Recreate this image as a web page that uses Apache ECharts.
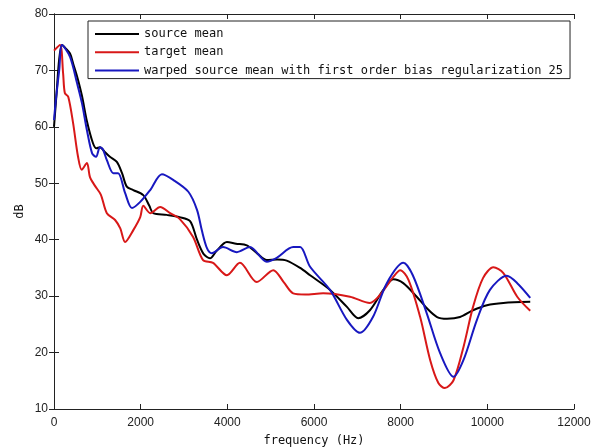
<!DOCTYPE html>
<html>
<head>
<meta charset="utf-8">
<script src="https://cdn.jsdelivr.net/npm/echarts@6/dist/echarts.min.js"></script>
<style>
  html, body { margin: 0; padding: 0; background: #fff; }
  #chart { width: 592px; height: 447px; }
</style>
</head>
<body>
<div id="chart"></div>
<script>
// series names
var seriesNames = ['source mean', 'target mean', 'warped source mean with first order bias regularization 25'];

// source mean (black)
var srcFreq = [0, 60, 120, 185, 260, 370, 450, 530, 645, 760, 900, 980, 1060, 1180, 1290, 1450, 1570, 1680, 1830, 2060, 2200, 2290, 2600, 2900, 3140, 3300, 3450, 3600, 3750, 3990, 4200, 4450, 4700, 4910, 5150, 5370, 5680, 5910, 6370, 6760, 7020, 7290, 7600, 7830, 8060, 8370, 8600, 8840, 9070, 9370, 9670, 9990, 10370, 10990];
var srcDb = [60, 66, 72, 74.5, 74, 73, 71, 69, 65.5, 61, 57.1, 56.2, 56.4, 55.5, 54.7, 53.8, 51.8, 49.4, 48.8, 47.9, 46, 44.7, 44.4, 44, 43.3, 40, 37.5, 36.7, 38, 39.6, 39.3, 39, 37.5, 36.4, 36.5, 36.3, 35, 33.7, 31.1, 28.1, 26.1, 27.5, 31.1, 33, 32.3, 29.9, 27.9, 26.3, 26, 26.3, 27.5, 28.4, 28.8, 29];

// target mean (red)
var tgtFreq = [0, 140, 210, 250, 330, 440, 555, 640, 760, 830, 950, 1080, 1220, 1410, 1530, 1640, 1830, 1990, 2060, 2220, 2450, 2680, 2900, 3210, 3440, 3670, 3990, 4290, 4680, 5060, 5300, 5520, 5800, 6210, 6830, 7290, 7520, 7830, 7990, 8180, 8450, 8680, 8870, 9020, 9220, 9450, 9670, 9900, 10140, 10370, 10690, 10990];
var tgtDb = [73.5, 74.5, 69.5, 66, 65.3, 60.7, 54.7, 52.4, 53.6, 51.1, 49.5, 48, 44.7, 43.5, 42, 39.6, 41.7, 44, 46, 44.7, 45.8, 44.7, 43.7, 40.5, 36.4, 35.9, 33.7, 35.9, 32.5, 34.6, 32.5, 30.5, 30.3, 30.5, 29.9, 28.8, 30.2, 33.4, 34.6, 32.9, 26.3, 18.7, 14.6, 13.7, 15.1, 21, 28.1, 33.2, 35.1, 34.1, 29.9, 27.4];

// warped source mean (blue)
var wrpFreq = [0, 50, 120, 185, 370, 530, 645, 760, 880, 970, 1060, 1130, 1220, 1370, 1480, 1640, 1800, 1990, 2220, 2490, 2750, 3100, 3300, 3410, 3530, 3640, 3900, 4220, 4520, 4910, 5140, 5520, 5680, 5910, 6370, 6760, 7060, 7360, 7680, 8060, 8280, 8600, 8910, 9220, 9450, 9760, 10060, 10450, 10690, 10990];
var wrpDb = [61.2, 65.3, 70, 74.5, 72.4, 67.8, 64.2, 59.4, 55.3, 54.7, 56.4, 56, 54.1, 51.8, 51.8, 48.3, 45.6, 46.7, 48.8, 51.6, 50.6, 48.5, 45.3, 41.7, 38.5, 37.6, 38.7, 37.8, 38.7, 36.1, 36.8, 38.7, 38.7, 35.2, 31.1, 25.8, 23.5, 26.3, 32.3, 35.9, 33.7, 27, 19.9, 15.7, 18.7, 25.8, 31.1, 33.6, 32.3, 29.7];

function zip(xs, ys) {
  return xs.map(function (x, i) { return [x, ys[i]]; });
}

var chart = echarts.init(document.getElementById('chart'));

var tickLabel = { color: '#222', fontSize: 12, fontFamily: 'Liberation Sans' };
var frameLine = { show: true, lineStyle: { color: '#222', width: 1 } };
var frameTick = { show: true, inside: true, length: 5, lineStyle: { color: '#222' } };

function mkSeries(name, data, color) {
  return {
    name: name,
    type: 'line',
    data: data,
    symbol: 'none',
    smooth: 0.3,
    lineStyle: { color: color, width: 2 },
    itemStyle: { color: color },
    z: 3
  };
}

var option = {
  backgroundColor: '#fff',
  animation: false,
  grid: { left: 54, right: 18, top: 14, bottom: 38, outerBoundsMode: 'none', containLabel: false },
  legend: {
    orient: 'vertical',
    left: 88,
    top: 21,
    padding: [6, 7, 1, 7],
    icon: 'rect',
    itemWidth: 44,
    itemHeight: 2,
    itemGap: 4.3,
    backgroundColor: '#fff',
    borderColor: '#222',
    borderWidth: 1,
    textStyle: { fontFamily: 'DejaVu Sans Mono', fontSize: 12, color: '#111', lineHeight: 14 },
    data: seriesNames
  },
  xAxis: [{
    type: 'value',
    min: 0, max: 12000, interval: 2000,
    name: 'frequency (Hz)',
    nameLocation: 'middle',
    nameGap: 26,
    nameMoveOverlap: false,
    nameTextStyle: { fontFamily: 'DejaVu Sans Mono', fontSize: 12, color: '#111' },
    axisLine: frameLine,
    axisTick: frameTick,
    axisLabel: Object.assign({ formatter: function (v) { return String(v); } }, tickLabel),
    splitLine: { show: false }
  }, {
    type: 'value',
    position: 'top',
    min: 0, max: 12000, interval: 2000,
    axisLine: frameLine,
    axisTick: frameTick,
    axisLabel: { show: false },
    splitLine: { show: false }
  }],
  yAxis: [{
    type: 'value',
    min: 10, max: 80, interval: 10,
    name: 'dB',
    nameLocation: 'middle',
    nameGap: 28,
    nameMoveOverlap: false,
    nameTextStyle: { fontFamily: 'DejaVu Sans Mono', fontSize: 12, color: '#111' },
    axisLine: frameLine,
    axisTick: frameTick,
    axisLabel: Object.assign({ margin: 6 }, tickLabel),
    splitLine: { show: false }
  }, {
    type: 'value',
    position: 'right',
    min: 10, max: 80, interval: 10,
    axisLine: frameLine,
    axisTick: frameTick,
    axisLabel: { show: false },
    splitLine: { show: false }
  }],
  series: [
    mkSeries(seriesNames[0], zip(srcFreq, srcDb), '#000000'),
    mkSeries(seriesNames[1], zip(tgtFreq, tgtDb), '#d81818'),
    mkSeries(seriesNames[2], zip(wrpFreq, wrpDb), '#1818c0')
  ]
};

chart.setOption(option);
</script>
</body>
</html>
